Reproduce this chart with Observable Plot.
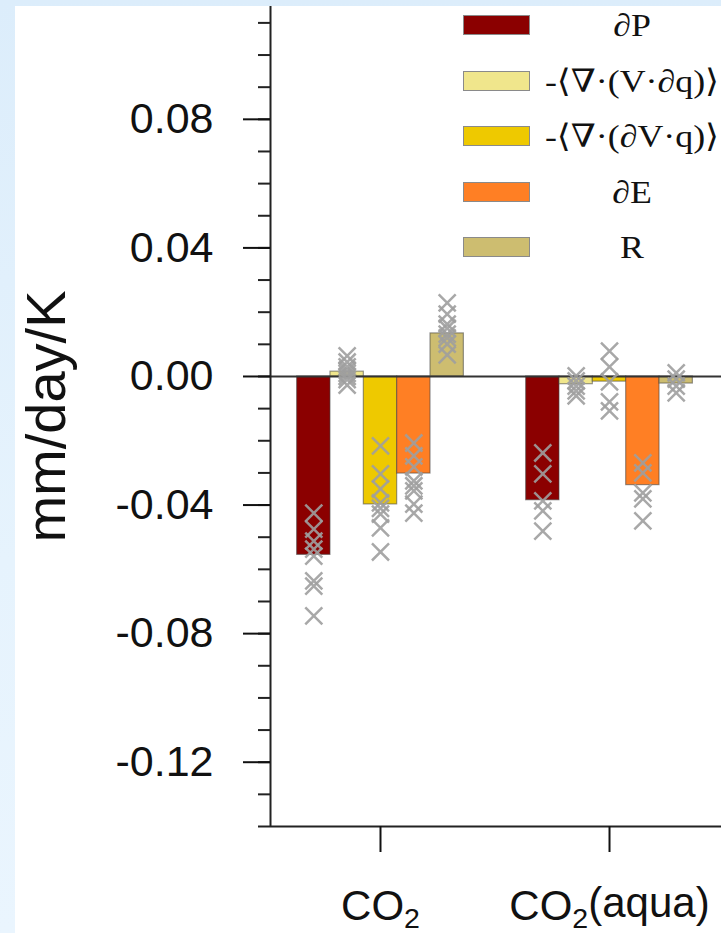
<!DOCTYPE html>
<html>
<head>
<meta charset="utf-8">
<script src="https://cdn.jsdelivr.net/npm/d3@7"></script>
<script src="https://cdn.jsdelivr.net/npm/@observablehq/plot@0.6"></script>
<style>
  html, body { margin: 0; padding: 0; }
  body { width: 721px; height: 933px; position: relative; overflow: hidden;
         background: linear-gradient(180deg, #dcedfb 0%, #e6f3fd 60%, #eaf5fe 100%); }
  #card { position: absolute; left: 15px; top: 6px; width: 706px; height: 927px; background: #fff; overflow: hidden; }
  #legend { position: absolute; left: 463px; top: 0px; width: 258px; }
  .row { position: absolute; left: 0; height: 56px; width: 258px; }
  .sw { position: absolute; left: 0; top: 18px; width: 65px; height: 18px; border: 1px solid #8a8a8a; }
  .lb { position: absolute; left: 77px; width: 184px; top: 0; height: 56px; line-height: 56px; text-align: center;
        font-family: "Liberation Serif", "DejaVu Serif", serif; font-size: 32px; color: #111; white-space: nowrap;
        transform: scaleX(1.12); transform-origin: 92px 50%; }
</style>
</head>
<body>
<div id="card"></div>
<div id="legend"></div>
<script>
// ---- data ----
const groups = ["CO2", "CO2(aqua)"];
const components = ["∂P", "-⟨∇·(V·∂q)⟩", "-⟨∇·(∂V·q)⟩", "∂E", "R"];
const colors = ["#8b0000", "#f0e68c", "#eec900", "#ff7f24", "#cdbd70"];

// multi-model mean bars (mm/day/K)
const co2Means  = [-0.0555, 0.0015, -0.0398, -0.0302, 0.0134];
const aquaMeans = [-0.0385, -0.0024, -0.0016, -0.0338, -0.0022];

// individual models (crosses)
const co2Models = [
  [-0.0425, -0.0475, -0.0512, -0.0537, -0.0559, -0.0636, -0.0652, -0.0745],
  [0.0064, 0.0045, 0.0030, 0.0020, 0.0010, 0.0000, -0.0010, -0.0027],
  [-0.0216, -0.0303, -0.0350, -0.0393, -0.0410, -0.0428, -0.0471, -0.0546],
  [-0.0207, -0.0247, -0.0281, -0.0325, -0.0340, -0.0356, -0.0397, -0.0425],
  [0.0229, 0.0194, 0.0163, 0.0150, 0.0132, 0.0120, 0.0101, 0.0067]
];
const aquaModels = [
  [-0.0238, -0.0303, -0.0387, -0.0418, -0.0481],
  [0.0002, -0.0014, -0.0030, -0.0045, -0.0060],
  [0.0079, 0.0030, -0.0017, -0.0079, -0.0107],
  [-0.0269, -0.0300, -0.0362, -0.0381, -0.0449],
  [0.0011, -0.0008, -0.0030, -0.0051]
];

const yMajor = [-0.12, -0.08, -0.04, 0, 0.04, 0.08];
const yMinor = d3.range(-14, 12).map(i => i / 100);
const xTicks = [0, 1];

// ---- build tables ----
const means = [co2Means, aquaMeans];
const models = [co2Models, aquaModels];
const barFrac = 0.1456; // width of one bar, in group units
const bars = [];
const pts = [];
groups.forEach((g, gi) => {
  components.forEach((c, j) => {
    bars.push({group: g, gi, j, component: c, value: means[gi][j]});
    models[gi][j].forEach(v => pts.push({group: g, gi, j, component: c, value: v}));
  });
});
const xLeft = d => d.gi + (d.j - 2.5) * barFrac;
const xRight = d => d.gi + (d.j - 1.5) * barFrac;
const xMid = d => d.gi + (d.j - 2) * barFrac;

const yMin = -0.14, yMax = 0.1151;
const xMin = -0.4803, xMax = 1.489;

const chart = Plot.plot({
  width: 706,
  height: 927,
  marginLeft: 255,
  marginRight: 0,
  marginTop: 0,
  marginBottom: 107,
  style: {fontFamily: "'Liberation Sans', Arial, Helvetica, sans-serif", background: "#fff", overflow: "visible"},
  x: {domain: [xMin, xMax]},
  y: {domain: [yMin, yMax]},
  color: {domain: components, range: colors},
  marks: [
    Plot.rect(bars, {x1: xLeft, x2: xRight, y1: 0, y2: "value", fill: "component",
      stroke: "#444", strokeOpacity: 0.55, strokeWidth: 1.2}),
    Plot.ruleY([0], {stroke: "#333", strokeWidth: 2}),
    Plot.dot(pts, {x: xMid, y: "value", symbol: "times", r: 7.8, stroke: "#9e9e9e",
      strokeWidth: 2.5, strokeOpacity: 0.9, fill: "none"}),
    Plot.ruleX([xMin], {y1: yMin, y2: yMax, stroke: "#222", strokeWidth: 2}),
    Plot.ruleY([yMin], {x1: xMin, x2: xMax, stroke: "#222", strokeWidth: 2}),
    Plot.axisY(yMinor, {tickSize: 12, tickFormat: () => "", stroke: "#222", strokeWidth: 2, label: null}),
    Plot.axisY(yMajor, {tickSize: 27, tickPadding: 30, tickFormat: d => d.toFixed(2), fontSize: 43,
      color: "#111", strokeWidth: 2, label: null}),
    Plot.axisX(xTicks, {tickSize: 26, tickPadding: 38, tickFormat: i => groups[i], fontSize: 42,
      color: "#111", strokeWidth: 2, label: null}),
    Plot.text(["mm/day/K"], {frameAnchor: "left", textAnchor: "middle", lineAnchor: "middle",
      rotate: -90, dx: -223, fontSize: 56, fill: "#111"})
  ]
});
document.getElementById("card").appendChild(chart);

// subscript the 2 in CO2 tick labels
d3.select(chart).selectAll('g[aria-label="x-axis tick label"] text').each(function () {
  const t = d3.select(this);
  const s = t.text();
  if (s.startsWith("CO2")) {
    t.text("CO");
    t.append("tspan").attr("font-size", "0.68em").attr("dy", "0.28em").text("2");
    const rest = s.slice(3);
    if (rest) t.append("tspan").attr("dy", "-0.28em").text(rest);
  }
});

// legend
const legend = document.getElementById("legend");
components.forEach((c, i) => {
  const row = document.createElement("div");
  row.className = "row";
  row.style.top = (-3 + i * 55.5) + "px";
  const sw = document.createElement("div");
  sw.className = "sw";
  sw.style.background = colors[i];
  const lb = document.createElement("div");
  lb.className = "lb";
  lb.textContent = c;
  row.appendChild(sw);
  row.appendChild(lb);
  legend.appendChild(row);
});
</script>
</body>
</html>
